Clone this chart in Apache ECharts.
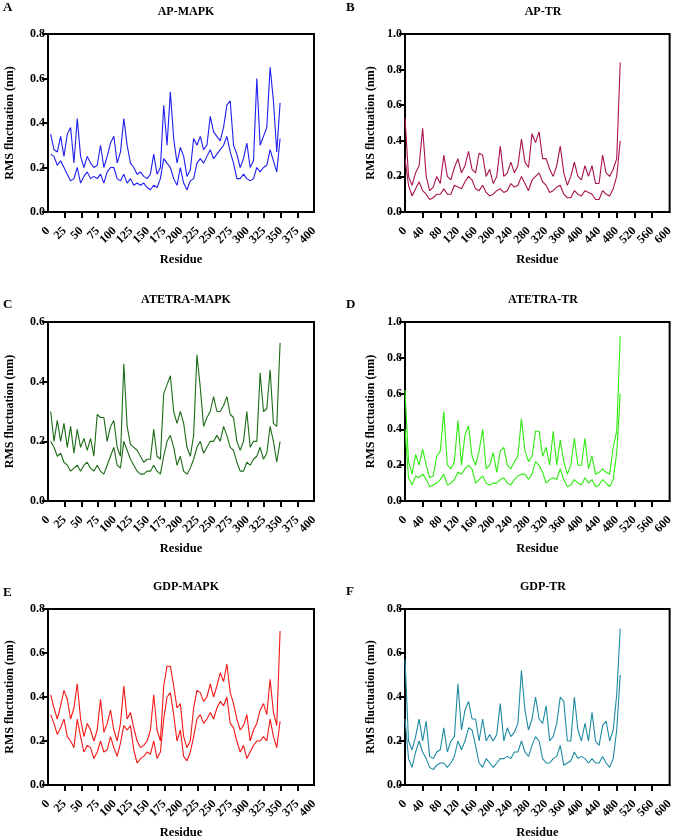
<!DOCTYPE html>
<html>
<head>
<meta charset="utf-8">
<script src="https://cdn.jsdelivr.net/npm/echarts@6/dist/echarts.min.js"></script>
<style>
html,body{margin:0;padding:0;background:#fff;}
#chart{width:676px;height:840px;}
</style>
</head>
<body>
<div id="chart"></div>
<script>
// Residue numbers (sampled)
const mapkResidues = [4,9,14,19,24,29,34,39,44,49,54,59,64,69,74,79,84,89,94,99,104,109,114,119,124,129,134,139,144,149,154,159,164,169,174,179,184,189,194,199,204,209,214,219,224,229,234,239,244,249,254,259,264,269,274,279,284,289,294,299,304,309,314,319,324,329,334,339,344,349];
const trResidues = [0,8,16,24,32,40,48,56,64,72,80,88,96,104,112,120,128,136,144,152,160,168,176,184,192,200,208,216,224,232,240,248,256,264,272,280,288,296,304,312,320,328,336,344,352,360,368,376,384,392,400,408,416,424,432,440,448,456,464,472,480,488];

// Tick labels
const mapkXTicks = [0,25,50,75,100,125,150,175,200,225,250,275,300,325,350,375,400];
const trXTicks = [0,40,80,120,160,200,240,280,320,360,400,440,480,520,560,600];

// A: AP-MAPK
const apMapkChain1 = [0.35,0.28,0.27,0.34,0.25,0.35,0.38,0.22,0.42,0.25,
0.20,0.25,0.22,0.20,0.21,0.30,0.20,0.25,0.31,0.34,
0.22,0.27,0.42,0.30,0.22,0.20,0.17,0.18,0.16,0.15,
0.17,0.26,0.17,0.20,0.48,0.30,0.54,0.33,0.22,0.29,
0.25,0.16,0.19,0.33,0.30,0.34,0.28,0.30,0.43,0.36,
0.34,0.32,0.38,0.48,0.50,0.30,0.26,0.20,0.24,0.31,
0.20,0.23,0.60,0.30,0.34,0.38,0.65,0.50,0.27,0.49];
const apMapkChain2 = [0.26,0.25,0.21,0.23,0.20,0.17,0.14,0.15,0.20,0.13,
0.16,0.18,0.15,0.16,0.15,0.17,0.13,0.18,0.20,0.20,
0.15,0.14,0.17,0.13,0.15,0.12,0.13,0.12,0.13,0.11,
0.10,0.12,0.11,0.15,0.24,0.22,0.20,0.15,0.12,0.20,
0.13,0.10,0.14,0.15,0.22,0.24,0.22,0.25,0.28,0.24,
0.26,0.28,0.30,0.34,0.27,0.22,0.15,0.15,0.17,0.15,
0.14,0.15,0.20,0.18,0.20,0.21,0.28,0.23,0.18,0.33];

// B: AP-TR
const apTrChain1 = [0.53,0.20,0.15,0.22,0.26,0.47,0.20,0.12,0.14,0.20,
0.16,0.32,0.20,0.18,0.25,0.30,0.22,0.26,0.34,0.24,
0.22,0.33,0.32,0.20,0.24,0.16,0.20,0.37,0.20,0.22,
0.28,0.22,0.26,0.41,0.28,0.25,0.44,0.39,0.45,0.30,
0.30,0.24,0.20,0.26,0.37,0.22,0.15,0.20,0.28,0.20,
0.18,0.26,0.20,0.26,0.16,0.16,0.32,0.22,0.20,0.24,
0.30,0.84];
const apTrChain2 = [0.30,0.15,0.09,0.13,0.17,0.12,0.10,0.07,0.08,0.10,
0.10,0.13,0.10,0.10,0.15,0.14,0.13,0.17,0.20,0.18,
0.13,0.12,0.15,0.11,0.09,0.10,0.12,0.13,0.11,0.12,
0.16,0.14,0.15,0.20,0.16,0.12,0.18,0.20,0.22,0.17,
0.15,0.11,0.12,0.14,0.15,0.10,0.08,0.08,0.12,0.10,
0.09,0.12,0.11,0.10,0.07,0.07,0.12,0.10,0.09,0.13,
0.20,0.40];

// C: ATETRA-MAPK
const atetraMapkChain1 = [0.30,0.20,0.27,0.20,0.26,0.18,0.25,0.16,0.24,0.18,
0.21,0.17,0.21,0.15,0.29,0.28,0.28,0.20,0.25,0.27,
0.18,0.15,0.46,0.25,0.19,0.18,0.17,0.15,0.13,0.14,
0.14,0.24,0.15,0.14,0.36,0.39,0.42,0.30,0.26,0.30,
0.26,0.18,0.15,0.22,0.49,0.38,0.25,0.28,0.30,0.35,
0.30,0.30,0.32,0.35,0.29,0.28,0.20,0.17,0.20,0.30,
0.18,0.20,0.20,0.43,0.30,0.31,0.44,0.26,0.25,0.53];
const atetraMapkChain2 = [0.20,0.18,0.15,0.16,0.13,0.12,0.10,0.11,0.12,0.10,
0.12,0.13,0.11,0.10,0.12,0.10,0.09,0.12,0.15,0.18,
0.12,0.11,0.20,0.17,0.14,0.12,0.10,0.09,0.09,0.10,
0.10,0.12,0.10,0.09,0.15,0.20,0.22,0.18,0.12,0.15,
0.10,0.09,0.11,0.14,0.18,0.20,0.16,0.18,0.20,0.20,
0.22,0.20,0.25,0.22,0.18,0.17,0.13,0.10,0.10,0.13,
0.12,0.14,0.15,0.18,0.14,0.16,0.25,0.20,0.13,0.20];

// D: ATETRA-TR
const atetraTrChain1 = [0.62,0.22,0.15,0.26,0.20,0.29,0.20,0.13,0.14,0.25,
0.28,0.50,0.20,0.18,0.22,0.45,0.20,0.37,0.42,0.25,
0.20,0.28,0.40,0.18,0.20,0.27,0.16,0.28,0.30,0.20,
0.18,0.22,0.25,0.46,0.28,0.22,0.25,0.39,0.39,0.25,
0.30,0.20,0.39,0.20,0.34,0.22,0.15,0.20,0.35,0.20,
0.20,0.35,0.18,0.25,0.15,0.16,0.18,0.16,0.15,0.30,
0.39,0.92];
const atetraTrChain2 = [0.40,0.13,0.09,0.14,0.13,0.15,0.12,0.08,0.09,0.10,
0.12,0.15,0.09,0.10,0.12,0.16,0.15,0.18,0.20,0.18,
0.10,0.12,0.14,0.10,0.09,0.10,0.10,0.12,0.13,0.10,
0.09,0.12,0.14,0.15,0.15,0.12,0.15,0.22,0.20,0.16,
0.10,0.12,0.13,0.12,0.18,0.12,0.08,0.09,0.12,0.10,
0.09,0.13,0.10,0.12,0.08,0.09,0.12,0.10,0.08,0.12,
0.27,0.60];

// E: GDP-MAPK
const gdpMapkChain1 = [0.41,0.35,0.30,0.36,0.43,0.39,0.30,0.35,0.46,0.30,
0.22,0.28,0.25,0.20,0.25,0.39,0.24,0.28,0.34,0.25,
0.20,0.28,0.45,0.30,0.33,0.26,0.20,0.17,0.18,0.20,
0.25,0.41,0.25,0.20,0.45,0.54,0.54,0.45,0.35,0.37,
0.22,0.17,0.20,0.35,0.43,0.42,0.38,0.40,0.46,0.40,
0.45,0.51,0.47,0.55,0.42,0.37,0.30,0.25,0.27,0.32,
0.20,0.25,0.28,0.34,0.37,0.32,0.48,0.33,0.27,0.70];
const gdpMapkChain2 = [0.32,0.28,0.23,0.26,0.30,0.22,0.20,0.17,0.30,0.22,
0.15,0.18,0.17,0.12,0.15,0.20,0.15,0.16,0.22,0.17,
0.13,0.19,0.27,0.25,0.27,0.16,0.10,0.12,0.13,0.15,
0.14,0.20,0.12,0.15,0.30,0.40,0.42,0.32,0.20,0.25,
0.13,0.11,0.15,0.22,0.30,0.32,0.28,0.30,0.33,0.30,
0.35,0.38,0.36,0.40,0.28,0.26,0.20,0.15,0.18,0.12,
0.15,0.18,0.20,0.20,0.22,0.20,0.30,0.22,0.17,0.29];

// F: GDP-TR
const gdpTrChain1 = [0.57,0.20,0.16,0.22,0.30,0.20,0.29,0.13,0.12,0.15,
0.16,0.26,0.15,0.20,0.22,0.46,0.25,0.34,0.38,0.30,
0.30,0.20,0.30,0.20,0.23,0.20,0.23,0.37,0.20,0.26,
0.22,0.24,0.28,0.52,0.34,0.25,0.30,0.40,0.30,0.28,
0.36,0.20,0.22,0.28,0.40,0.38,0.20,0.20,0.40,0.25,
0.20,0.28,0.20,0.33,0.20,0.18,0.27,0.29,0.20,0.25,
0.41,0.71];
const gdpTrChain2 = [0.30,0.12,0.08,0.15,0.20,0.15,0.12,0.08,0.07,0.09,
0.10,0.10,0.08,0.10,0.13,0.20,0.16,0.20,0.26,0.25,
0.18,0.10,0.08,0.12,0.10,0.08,0.10,0.12,0.12,0.13,
0.12,0.15,0.15,0.20,0.15,0.13,0.18,0.22,0.20,0.12,
0.10,0.10,0.12,0.13,0.18,0.09,0.10,0.11,0.15,0.12,
0.13,0.12,0.10,0.12,0.10,0.10,0.13,0.10,0.08,0.12,
0.25,0.50];

const panels = [
  {letter:'A', title:'AP-MAPK', res:mapkResidues, chains:[apMapkChain1, apMapkChain2], color:'#1e1ef0', ticks:mapkXTicks, yMax:0.8, left:48, top:34, h:178, letterTop:1},
  {letter:'B', title:'AP-TR', res:trResidues, chains:[apTrChain1, apTrChain2], color:'#a8124f', ticks:trXTicks, yMax:1.0, left:405, top:34, h:178, letterTop:1},
  {letter:'C', title:'ATETRA-MAPK', res:mapkResidues, chains:[atetraMapkChain1, atetraMapkChain2], color:'#1c6b16', ticks:mapkXTicks, yMax:0.6, left:48, top:322, h:179, letterTop:298},
  {letter:'D', title:'ATETRA-TR', res:trResidues, chains:[atetraTrChain1, atetraTrChain2], color:'#2eec10', ticks:trXTicks, yMax:1.0, left:405, top:322, h:179, letterTop:298},
  {letter:'E', title:'GDP-MAPK', res:mapkResidues, chains:[gdpMapkChain1, gdpMapkChain2], color:'#f51616', ticks:mapkXTicks, yMax:0.8, left:48, top:609, h:179, letterTop:586},
  {letter:'F', title:'GDP-TR', res:trResidues, chains:[gdpTrChain1, gdpTrChain2], color:'#1e8aa2', ticks:trXTicks, yMax:0.8, left:405, top:609, h:179, letterTop:585}
];

const FONT = '"Liberation Serif", "Times New Roman", serif';
const W = 266;
const grid = [], xAxis = [], yAxis = [], series = [], title = [];
const labelStyle = {rotate:45, margin:17, hideOverlap:false, fontFamily:FONT, fontWeight:'bold', fontSize:12, color:'#000'};

panels.forEach((p, i) => {
  grid.push({left:p.left, top:p.top, width:W, height:p.h, show:true, borderColor:'#000', borderWidth:2, backgroundColor:'transparent'});
  const xMin = p.ticks[0], xMax = p.ticks[p.ticks.length-1];
  const xInt = p.ticks[1] - p.ticks[0];
  // primary x axis: line, ticks and the inner labels
  xAxis.push({
    gridIndex:i, type:'value', position:'bottom', min:xMin, max:xMax, interval:xInt,
    axisLine:{show:true, onZero:false, lineStyle:{color:'#000', width:2}},
    axisTick:{show:true, length:6, lineStyle:{color:'#000', width:2}},
    axisLabel:Object.assign({showMinLabel:false, showMaxLabel:false}, labelStyle),
    splitLine:{show:false},
    name:'Residue', nameLocation:'middle', nameGap:41, nameMoveOverlap:false,
    nameTextStyle:{fontFamily:FONT, fontWeight:'bold', fontSize:12.5, color:'#000'}
  });
  // secondary x axis: only the end labels (min and max ticks)
  xAxis.push({
    gridIndex:i, type:'value', position:'bottom', offset:0, min:xMin, max:xMax, interval:xInt,
    axisLine:{show:false}, axisTick:{show:false}, splitLine:{show:false},
    axisLabel:Object.assign({showMinLabel:true, showMaxLabel:true,
      formatter:v => (v === xMin || v === xMax) ? String(v) : ''}, labelStyle)
  });
  yAxis.push({
    gridIndex:i, type:'value', min:0, max:p.yMax, interval:0.2,
    axisLine:{show:true, onZero:false, lineStyle:{color:'#000', width:2}},
    axisTick:{show:true, length:6, lineStyle:{color:'#000', width:2}},
    axisLabel:{margin:3, hideOverlap:false, fontFamily:FONT, fontWeight:'bold', fontSize:12, color:'#000', formatter:v=>v.toFixed(1)},
    splitLine:{show:false},
    name:'RMS fluctuation (nm)', nameLocation:'middle', nameGap: (p.left < 200 ? 32 : 28), nameMoveOverlap:false,
    nameTextStyle:{fontFamily:FONT, fontWeight:'bold', fontSize:12, color:'#000'}
  });
  p.chains.forEach((c, k) => {
    series.push({
      type:'line', xAxisIndex:2*i, yAxisIndex:i, showSymbol:false, animation:false,
      lineStyle:{color:p.color, width:1.1}, itemStyle:{color:p.color},
      data:p.res.map((r, j) => [r, c[j]]), z:3 + k
    });
  });
  title.push({text:p.title, left:p.left + W/2, top:p.top - 33, textAlign:'center',
    textStyle:{fontFamily:FONT, fontWeight:'bold', fontSize:12, color:'#000'}});
  title.push({text:p.letter, left:(p.left < 200 ? 3 : 346), top:p.letterTop, padding:0,
    textStyle:{fontFamily:FONT, fontWeight:'bold', fontSize:13, color:'#000'}});
});

const chart = echarts.init(document.getElementById('chart'), null, {renderer:'canvas'});
chart.setOption({animation:false, backgroundColor:'#fff', title, grid, xAxis, yAxis, series});
</script>
</body>
</html>
